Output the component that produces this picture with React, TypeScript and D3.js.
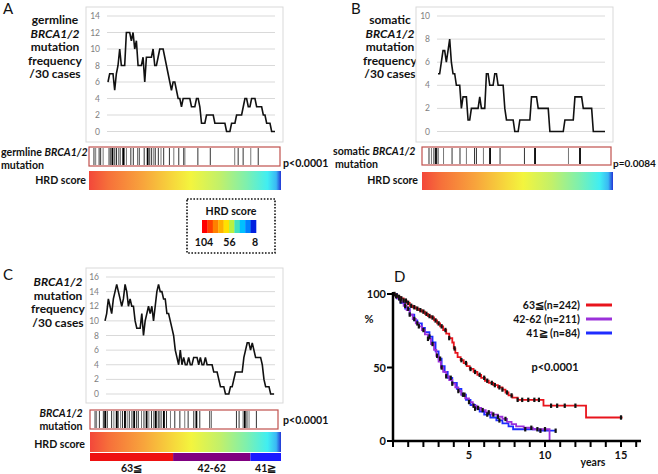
import React from 'react';
import * as d3 from 'd3';

// ---------- DATA ----------
const freqGermline = [6,7,7,7,5,7,8,10,8,8,8,12,12,12,11,12,10,11,8,8,8,9,6,9,9,9,9,10,8,8,9,10,10,10,9,8,7,6,5,6,6,5,4,4,3,4,4,4,4,4,3,3,3,4,4,3,1,1,1,2,2,2,2,2,1,1,1,1,1,1,1,0,0,0,1,1,1,2,2,2,2,3,4,4,3,3,4,4,4,3,3,3,3,2,2,1,1,1,0,0,0];
const freqSomatic = [5,5,6,7,7,6,7,8,6,5,5,4,4,4,2,3,3,3,1,1,2,2,2,2,2,3,2,2,2,5,5,4,4,4,5,5,4,4,4,4,2,1,1,1,1,1,0,0,0,1,1,1,1,1,1,1,3,3,3,3,2,2,2,2,2,2,2,0,0,0,0,0,0,0,0,0,1,1,1,1,1,1,3,3,3,3,3,2,2,2,2,2,2,0,0,0,0,0,0,0,0];
const freqAll = [10,11,13,12,11,13,14,15,14,13,12,13,15,14,12,13,12,12,10,9,9,9,11,8,10,11,12,11,12,10,12,14,15,14,14,13,13,11,11,10,9,8,6,5,4,6,4,5,4,4,5,4,4,5,5,5,4,5,4,4,5,4,4,4,4,3,3,3,2,1,1,1,0,0,0,1,1,2,3,3,3,3,3,5,6,7,7,6,7,6,5,5,5,5,4,2,1,1,1,0,0,0];

const yTicksA = [0,2,4,6,8,10,12,14];
const yTicksB = [0,2,4,6,8,10];
const yTicksC = [0,2,4,6,8,10,12,14,16];

// mutation positions along the HRD ranking (percent of cases)
const mutGermline = [2.6,3.5,5.3,6.1,7.4,10.5,11.4,12.3,13.5,14.4,15.4,16.3,18.4,19.6,21.9,23.2,25.4,26.3,28.9,30.7,31.8,32.8,33.9,34.7,36.3,37.7,39.1,42.1,44.4,47.0,49.6,50.2,57.0,63.5,76.3,78.1,80.7,84.7,88.6];
const mutGermlineStrong = [17.9,12.3,30.7];
const mutSomatic = [3.7,5.0,6.3,8.5,11.4,15.9,20.1,23.5,27.8,28.8,32.5,41.3,54.2,77.5];
const mutSomaticStrong = [7.4,36.0,59.8,83.6];
const mutAll = [2.7,3.5,5.0,7.1,8.1,9.2,11.5,12.7,14.2,15.0,16.3,17.3,18.6,19.8,20.9,22.3,23.5,24.8,25.7,27.4,28.7,30.1,31.3,32.7,34.0,35.0,36.3,37.2,38.1,39.3,40.7,42.8,45.1,47.8,50.4,52.2,55.2,56.6,58.4,63.7,64.6,77.9,79.3,81.4,82.3,83.5,84.6,88.5];
const mutAllStrong = [8.1,14.2,18.6,23.5,30.1,35.0,39.3,56.6,82.3];

const hrdLegendColors = ['#ff0000','#ff4000','#ff8000','#ffb000','#ffe000','#b8f040','#40e0c0','#00c0ff','#0080ff','#0020e0'];
const hrdLegendLabels = ['104','56','8'];
const hrdGroups = ['63≦','42-62','41≧'];
const hrdGroupShare = [43.5, 40.5, 16];
const hrdGroupColors = ['#ee1111','#800080','#1a1aff'];

const kmLabels = ['63≦(n=242)','42-62 (n=211)','41≧ (n=84)'];
const kmColors = ['#e8141c','#9b30d9','#1f2cff'];
const kmHighT = [0,0.15,0.3,0.5,0.7,0.9,1.1,1.3,1.5,1.7,1.9,2.1,2.3,2.5,2.7,2.9,3.1,3.3,3.5,3.7,3.9,4.0,4.1,4.25,4.45,4.65,4.85,5.05,5.3,5.55,5.8,6.05,6.3,6.6,6.9,7.2,7.4,7.6,7.85,8.2,9.9,12.7,15.1];
const kmHighS = [100,99,98,97,95.5,94,92,91,90,89,88,86.5,85,84,82,80,78,75.5,73,70,67,63,60,57,55,53,51,49,47,45,43,41,39.5,38,36.5,35,33,31,29.5,28,24,16,16];
const kmMidT = [0,0.15,0.3,0.5,0.7,0.9,1.1,1.3,1.5,1.7,1.9,2.1,2.3,2.5,2.7,2.85,3.0,3.15,3.3,3.5,3.7,3.9,4.1,4.3,4.5,4.75,5.0,5.25,5.5,5.8,6.1,6.5,6.9,7.2,7.5,7.8,8.1,8.6,9.2,10.3,10.3];
const kmMidS = [100,98.5,97,95,92,89,86,83,80,78,75.5,72.5,69.5,66,62,58,54,50,47,44,41.5,39,36.5,34,31.5,29,26.5,24,22.5,21,19.5,18,16.5,15,13,11.5,10,9,8,8,0];
const kmLowT = [0,0.25,0.5,0.8,1.1,1.4,1.6,1.9,2.1,2.4,2.6,2.8,3.0,3.2,3.4,3.6,3.9,4.2,4.5,4.8,5.1,5.4,5.7,6.0,6.4,6.8,7.2,7.6,7.9,9.6,10.7];
const kmLowS = [100,97,94,90,86,82,80,77,74,71,67,61,56,51,47,43,39.5,35.5,31.5,28,24.5,22,20,18,16,14,12,10,8,7,7];
const censorHigh = [0.1,0.25,0.4,0.55,0.7,0.85,1.0,1.2,1.4,1.6,1.8,2.0,2.2,2.4,2.6,2.8,3.0,3.2,3.45,3.7,4.05,4.5,4.8,5.1,5.4,5.7,6.0,6.2,6.5,6.7,7.0,7.2,7.5,7.8,8.2,8.5,8.9,9.3,9.6,10.4,10.8,11.3,12.0,15.0];
const censorMid = [0.2,0.5,0.8,1.1,1.4,1.7,2.0,2.3,2.6,2.9,3.2,3.5,3.9,4.3,4.7,5.0,5.3,5.6,5.9,6.3,6.6,6.9,7.4,9.1,9.5,10.0];
const censorLow = [0.4,1.0,1.6,2.4,3.1,3.8,4.6,5.4,6.2,7.0,8.7,9.7,10.7];
const kmXTicks = d3.range(0, 17);
const kmXLabels = [5,10,15];
const kmYTicks = [0,50,100];

// ---------- STYLE ----------
const FONT = "Lato, 'Open Sans', sans-serif";
const BOX_GRAY = '#d9d9d9';
const BAR_RED = '#c0504d';
const LAB = 10.6;

function Title({ x, y, lines, size = 12 }) {
  return (
    <text x={x} y={y} fontFamily={FONT} fontWeight="bold" fontSize={size} textAnchor="middle" fill="#111">
      {lines.map((l, i) => (
        <tspan key={i} x={x} dy={i === 0 ? 0 : 13.6} fontStyle={l === 'BRCA1/2' ? 'italic' : 'normal'}>{l}</tspan>
      ))}
    </text>
  );
}

function FreqChart({ bx, by, bw, bh, x0, x1, gx0, gx1, y0, y1, yMax, ticks, values, labelX }) {
  const y = d3.scaleLinear().domain([0, yMax]).range([y0, y1]);
  const x = d3.scaleLinear().domain([0, values.length - 1]).range([x0, x1]);
  const line = d3.line<number>().x((_, i) => x(i)).y(v => y(v));
  return (
    <g>
      <rect x={bx} y={by} width={bw} height={bh} fill="#fff" stroke={BOX_GRAY} strokeWidth={1} />
      {ticks.map(t => (
        <g key={t}>
          <line x1={gx0} x2={gx1} y1={y(t)} y2={y(t)} stroke={BOX_GRAY} strokeWidth={1} />
          <text x={labelX} y={y(t) + 3} textAnchor="end" fontFamily={FONT} fontSize={8.5} fill="#7f7f7f">{t}</text>
        </g>
      ))}
      <path d={line(values) || ''} fill="none" stroke="#111" strokeWidth={1.6} strokeLinejoin="miter" />
    </g>
  );
}

function Barcode({ x, y, w, h, marks, strong }) {
  const sx = d3.scaleLinear().domain([0, 100]).range([x, x + w]);
  return (
    <g>
      <rect x={x} y={y} width={w} height={h} fill="#fff" stroke={BAR_RED} strokeWidth={1.2} />
      {marks.map((m, i) => (
        <line key={i} x1={sx(m)} x2={sx(m)} y1={y + 1} y2={y + h - 1} stroke={i % 3 === 1 ? '#777' : '#333'} strokeWidth={1} />
      ))}
      {strong.map((m, i) => (
        <line key={'s' + i} x1={sx(m)} x2={sx(m)} y1={y + 1} y2={y + h - 1} stroke="#000" strokeWidth={1.8} />
      ))}
    </g>
  );
}

function HrdBar({ x, y, w, h }) {
  return <rect x={x} y={y} width={w} height={h} fill="url(#hrdGrad)" />;
}

function KM() {
  const x = d3.scaleLinear().domain([0, 15]).range([393, 621]);
  const y = d3.scaleLinear().domain([0, 100]).range([441, 294]);
  const groups = [
    { t: kmHighT, s: kmHighS, c: censorHigh },
    { t: kmMidT, s: kmMidS, c: censorMid },
    { t: kmLowT, s: kmLowS, c: censorLow },
  ];
  const line = d3.line<[number, number]>().x(d => x(d[0])).y(d => y(d[1])).curve(d3.curveStepAfter);
  const survAt = (T, S, t) => {
    const i = d3.bisectRight(T, t) - 1;
    return S[Math.max(0, Math.min(i, S.length - 1))];
  };
  const order = [2, 1, 0];
  return (
    <g>
      {order.map(gi => {
        const g = groups[gi];
        const pts = g.t.map((t, i) => [t, g.s[i]] as [number, number]);
        return <path key={gi} d={line(pts) || ''} fill="none" stroke={kmColors[gi]} strokeWidth={1.8} />;
      })}
      {order.map(gi => {
        const g = groups[gi];
        return g.c.map((ct, i) => {
          const sv = survAt(g.t, g.s, ct);
          return <line key={gi + '-' + i} x1={x(ct)} x2={x(ct)} y1={y(sv) - 2.2} y2={y(sv) + 2.2} stroke="#111" strokeWidth={2.2} />;
        });
      })}
      <line x1={393} x2={641} y1={441} y2={441} stroke="#000" strokeWidth={2.5} />
      <line x1={393} x2={393} y1={292} y2={442} stroke="#000" strokeWidth={2.5} />
      {kmXTicks.map(t => (
        <line key={t} x1={x(t)} x2={x(t)} y1={441} y2={447} stroke="#000" strokeWidth={2} />
      ))}
      {kmYTicks.map(t => (
        <g key={t}>
          <line x1={387} x2={393} y1={y(t)} y2={y(t)} stroke="#000" strokeWidth={2} />
          <text x={386} y={y(t) + 4} textAnchor="end" fontFamily={FONT} fontWeight="bold" fontSize={11} fill="#111">{t}</text>
        </g>
      ))}
      {kmXLabels.map(t => (
        <text key={t} x={x(t)} y={459} textAnchor="middle" fontFamily={FONT} fontWeight="bold" fontSize={11} fill="#111">{t}</text>
      ))}
      <text x={593} y={466} textAnchor="middle" fontFamily={FONT} fontWeight="bold" fontSize={10.5} fill="#111">years</text>
      <text x={369} y={323} textAnchor="middle" fontFamily={FONT} fontWeight="bold" fontSize={11} fill="#111">%</text>
      {kmLabels.map((l, i) => (
        <g key={l}>
          <text x={580} y={309 + i * 14} textAnchor="end" fontFamily={FONT} fontWeight="bold" fontSize={10.5} fill="#111">{l}</text>
          <line x1={586} x2={612} y1={305 + i * 14} y2={305 + i * 14} stroke={kmColors[i]} strokeWidth={3} />
        </g>
      ))}
      <text x={555} y={371} textAnchor="middle" fontFamily={FONT} fontWeight="bold" fontSize={11} fill="#111">p&lt;0.0001</text>
    </g>
  );
}

export default function App() {
  const legendX = d3.scaleBand<number>().domain(d3.range(hrdLegendColors.length)).range([202, 256]);
  const grpScale = d3.scaleLinear().domain([0, 100]).range([90, 281]);
  const grpStarts = hrdGroupShare.map((_, i) => d3.sum(hrdGroupShare.slice(0, i)));
  const legLabelX = d3.scaleLinear().domain([0, 2]).range([204, 255]);
  return (
    <svg width={658} height={474} style={{ position: 'absolute', left: 0, top: 0, background: '#fff' }}>
      <defs>
        <linearGradient id="hrdGrad" x1="0" x2="1" y1="0" y2="0">
          <stop offset="0" stopColor="#f3473a" />
          <stop offset="0.1" stopColor="#f6703a" />
          <stop offset="0.28" stopColor="#f8a43c" />
          <stop offset="0.45" stopColor="#f6dc3c" />
          <stop offset="0.53" stopColor="#f3f53e" />
          <stop offset="0.68" stopColor="#c2f06a" />
          <stop offset="0.82" stopColor="#7ef0ae" />
          <stop offset="0.93" stopColor="#40eef2" />
          <stop offset="0.975" stopColor="#3ab8f4" />
          <stop offset="1" stopColor="#2236d6" />
        </linearGradient>
      </defs>
      <rect x={0} y={0} width={658} height={474} fill="#fff" />

      {/* Panel A */}
      <text x={3} y={14} fontFamily={FONT} fontSize={15} fill="#111">A</text>
      <Title x={55} y={24} lines={['germline', 'BRCA1/2', 'mutation', 'frequency', '/30 cases']} />
      <FreqChart bx={86} by={7} bw={197} bh={135} x0={108} x1={275} gx0={107} gx1={275} y0={131.5} y1={16} yMax={14} ticks={yTicksA} values={freqGermline} labelX={100} />
      <text x={1} y={156} fontFamily={FONT} fontWeight="bold" fontSize={LAB} fill="#111">germline <tspan fontStyle="italic">BRCA1/2</tspan></text>
      <text x={1} y={169} fontFamily={FONT} fontWeight="bold" fontSize={LAB} fill="#111">mutation</text>
      <Barcode x={89} y={147} w={191} h={19} marks={mutGermline} strong={mutGermlineStrong} />
      <text x={283} y={167} fontFamily={FONT} fontWeight="bold" fontSize={LAB} fill="#111">p&lt;0.0001</text>
      <text x={86} y={184} textAnchor="end" fontFamily={FONT} fontWeight="bold" fontSize={LAB} fill="#111">HRD score</text>
      <HrdBar x={89} y={171} w={192} h={19} />

      {/* HRD legend */}
      <rect x={187} y={199} width={88} height={54} fill="#fff" stroke="#111" strokeWidth={1.6} strokeDasharray="1.6,1.6" />
      <text x={231} y={215} textAnchor="middle" fontFamily={FONT} fontWeight="bold" fontSize={LAB} fill="#111">HRD score</text>
      {hrdLegendColors.map((c, i) => (
        <rect key={c} x={legendX(i)} y={220} width={legendX.bandwidth() + 0.3} height={13} fill={c} />
      ))}
      {hrdLegendLabels.map((l, i) => (
        <text key={l} x={legLabelX(i)} y={246} textAnchor="middle" fontFamily={FONT} fontWeight="bold" fontSize={LAB} fill="#111">{l}</text>
      ))}

      {/* Panel B */}
      <text x={351} y={14} fontFamily={FONT} fontSize={15} fill="#111">B</text>
      <Title x={390} y={24} lines={['somatic', 'BRCA1/2', 'mutation', 'frequency', '/30 cases']} />
      <FreqChart bx={416} by={7} bw={197} bh={135} x0={438} x1={605} gx0={437} gx1={605} y0={131.5} y1={16} yMax={10} ticks={yTicksB} values={freqSomatic} labelX={430} />
      <text x={333} y={155} fontFamily={FONT} fontWeight="bold" fontSize={LAB} fill="#111">somatic <tspan fontStyle="italic">BRCA1/2</tspan></text>
      <text x={335} y={168} fontFamily={FONT} fontWeight="bold" fontSize={LAB} fill="#111">mutation</text>
      <Barcode x={422} y={147} w={189} h={18} marks={mutSomatic} strong={mutSomaticStrong} />
      <text x={613} y={167} fontFamily={FONT} fontWeight="bold" fontSize={10} fill="#111">p=0.0084</text>
      <text x={418} y={184} textAnchor="end" fontFamily={FONT} fontWeight="bold" fontSize={LAB} fill="#111">HRD score</text>
      <HrdBar x={422} y={172} w={191} h={18} />

      {/* Panel C */}
      <text x={3} y={280} fontFamily={FONT} fontSize={15} fill="#111">C</text>
      <Title x={58} y={286} lines={['BRCA1/2', 'mutation', 'frequency', '/30 cases']} />
      <FreqChart bx={86} by={268} bw={197} bh={135} x0={105} x1={274} gx0={106} gx1={275} y0={394} y1={277} yMax={16} ticks={yTicksC} values={freqAll} labelX={99} />
      <text x={61} y={417} textAnchor="middle" fontFamily={FONT} fontWeight="bold" fontStyle="italic" fontSize={LAB} fill="#111">BRCA1/2</text>
      <text x={61} y={430} textAnchor="middle" fontFamily={FONT} fontWeight="bold" fontSize={LAB} fill="#111">mutation</text>
      <Barcode x={90} y={410} w={188} h={19} marks={mutAll} strong={mutAllStrong} />
      <text x={283} y={424} fontFamily={FONT} fontWeight="bold" fontSize={LAB} fill="#111">p&lt;0.0001</text>
      <text x={85} y={448} textAnchor="end" fontFamily={FONT} fontWeight="bold" fontSize={LAB} fill="#111">HRD score</text>
      <HrdBar x={90} y={432} w={191} h={20} />
      {hrdGroups.map((g, i) => (
        <g key={g}>
          <rect x={grpScale(grpStarts[i])} y={453} width={grpScale(grpStarts[i] + hrdGroupShare[i]) - grpScale(grpStarts[i])} height={8} fill={hrdGroupColors[i]} />
          <text x={(grpScale(grpStarts[i]) + grpScale(grpStarts[i] + hrdGroupShare[i])) / 2} y={472} textAnchor="middle" fontFamily={FONT} fontWeight="bold" fontSize={LAB} fill="#111">{g}</text>
        </g>
      ))}

      {/* Panel D */}
      <text x={394} y={282} fontFamily={FONT} fontSize={15} fill="#111">D</text>
      <KM />
    </svg>
  );
}
